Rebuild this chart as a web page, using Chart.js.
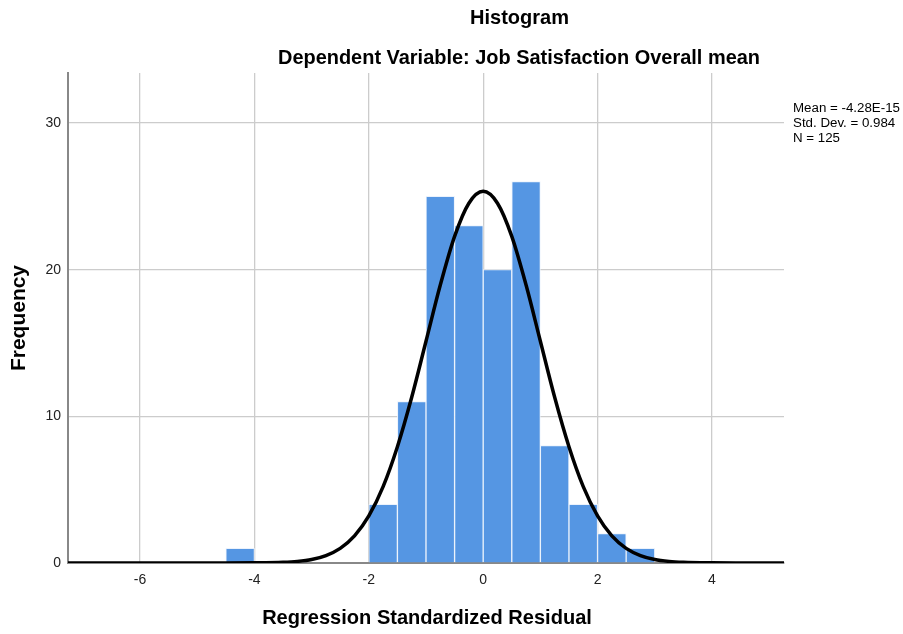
<!DOCTYPE html>
<html><head><meta charset="utf-8">
<script src="https://cdn.jsdelivr.net/npm/chart.js@4"></script>
<style>html,body{margin:0;padding:0;background:#fff}#wrap{width:903px;height:634px;position:relative}</style>
</head><body><div id="wrap"><canvas id="c" width="903" height="634"></canvas></div>
<script>
// Histogram bins (centres) and frequencies
const binCenters = [-4.25, -1.75, -1.25, -0.75, -0.25, 0.25, 0.75, 1.25, 1.75, 2.25, 2.75];
const frequencies = [1, 4, 11, 25, 23, 20, 26, 8, 4, 2, 1];
// Normal curve
const curveX = [-7.26, -6, -5, -4.5, -4, -3.5, -3.25, -3, -2.75, -2.5, -2.25, -2, -1.75, -1.5, -1.25, -1, -0.75, -0.5, -0.25, 0, 0.25, 0.5, 0.75, 1, 1.25, 1.5, 1.75, 2, 2.25, 2.5, 2.75, 3, 3.25, 3.5, 4, 4.5, 5, 5.26];
const curveY = [0, 0, 0, 0, 0.01, 0.05, 0.11, 0.24, 0.51, 1.0, 1.85, 3.21, 5.21, 7.93, 11.3, 15.12, 18.95, 22.27, 24.53, 25.34, 24.53, 22.27, 18.95, 15.12, 11.3, 7.93, 5.21, 3.21, 1.85, 1.0, 0.51, 0.24, 0.11, 0.05, 0.01, 0, 0, 0];
const xTicks = [-6, -4, -2, 0, 2, 4];
const yTicks = [0, 10, 20, 30];
const titleText = "Histogram";
const subtitleText = "Dependent Variable: Job Satisfaction Overall mean";
const xTitle = "Regression Standardized Residual";
const yTitle = "Frequency";
const statsLines = ["Mean = -4.28E-15", "Std. Dev. = 0.984", "N = 125"];

const FONT = "'Liberation Sans', Arial, sans-serif";

function fitText(ctx, text, targetW, weight) {
  ctx.font = weight + " 20px " + FONT;
  const w = ctx.measureText(text).width;
  const size = 20 * targetW / w;
  ctx.font = weight + " " + size.toFixed(2) + "px " + FONT;
}

const textPlugin = {
  id: 'texts',
  afterDraw(chart) {
    const ctx = chart.ctx;
    ctx.save();
    ctx.fillStyle = '#000';
    ctx.textAlign = 'center';
    ctx.textBaseline = 'middle';
    fitText(ctx, titleText, 99, 'bold');
    ctx.fillText(titleText, 519.5, 18);
    fitText(ctx, subtitleText, 482, 'bold');
    ctx.fillText(subtitleText, 519, 58);
    fitText(ctx, xTitle, 330, 'bold');
    ctx.fillText(xTitle, 427, 618);
    ctx.save();
    ctx.translate(19, 318);
    ctx.rotate(-Math.PI / 2);
    fitText(ctx, yTitle, 106, 'bold');
    ctx.fillText(yTitle, 0, 0);
    ctx.restore();
    ctx.textAlign = 'left';
    fitText(ctx, statsLines[0], 107, 'normal');
    statsLines.forEach((s, i) => ctx.fillText(s, 793, 108 + i * 15));
    ctx.restore();
  }
};

new Chart(document.getElementById('c'), {
  type: 'bar',
  data: {
    datasets: [
      {
        type: 'line',
        data: curveX.map((x, i) => ({x: x, y: curveY[i]})),
        borderColor: '#000',
        borderWidth: 3.5,
        pointRadius: 0,
        cubicInterpolationMode: 'monotone',
        fill: false,
        order: 0
      },
      {
        type: 'bar',
        data: binCenters.map((x, i) => ({x: x, y: frequencies[i]})),
        backgroundColor: '#5596e3',
        borderColor: 'rgba(235,242,252,1)',
        borderWidth: 1,
        barPercentage: 1,
        categoryPercentage: 1,
        order: 1
      }
    ]
  },
  options: {
    responsive: false,
    animation: false,
    devicePixelRatio: 1,
    layout: {padding: {top: 73, right: 119, left: 0, bottom: 0}},
    plugins: {legend: {display: false}, tooltip: {enabled: false}, title: {display: false}},
    scales: {
      x: {
        type: 'linear',
        min: -7.26, max: 5.26,
        offset: false,
        afterFit(s) { s.height = 71; },
        afterBuildTicks(s) { s.ticks = xTicks.map(v => ({value: v})); },
        ticks: {font: {family: FONT, size: 14}, color: '#222', padding: 9, includeBounds: false, maxRotation: 0},
        grid: {color: '#cccccc', lineWidth: 1.3, drawTicks: false, offset: false},
        border: {display: true, color: '#888', width: 2}
      },
      y: {
        min: 0, max: 33.41,
        afterFit(s) { s.width = 68; },
        afterBuildTicks(s) { s.ticks = yTicks.map(v => ({value: v})); },
        ticks: {font: {family: FONT, size: 14}, color: '#222', padding: 7, includeBounds: false},
        grid: {color: '#cccccc', lineWidth: 1.3, drawTicks: false},
        border: {display: true, color: '#888', width: 2}
      }
    }
  },
  plugins: [textPlugin]
});
</script></body></html>
